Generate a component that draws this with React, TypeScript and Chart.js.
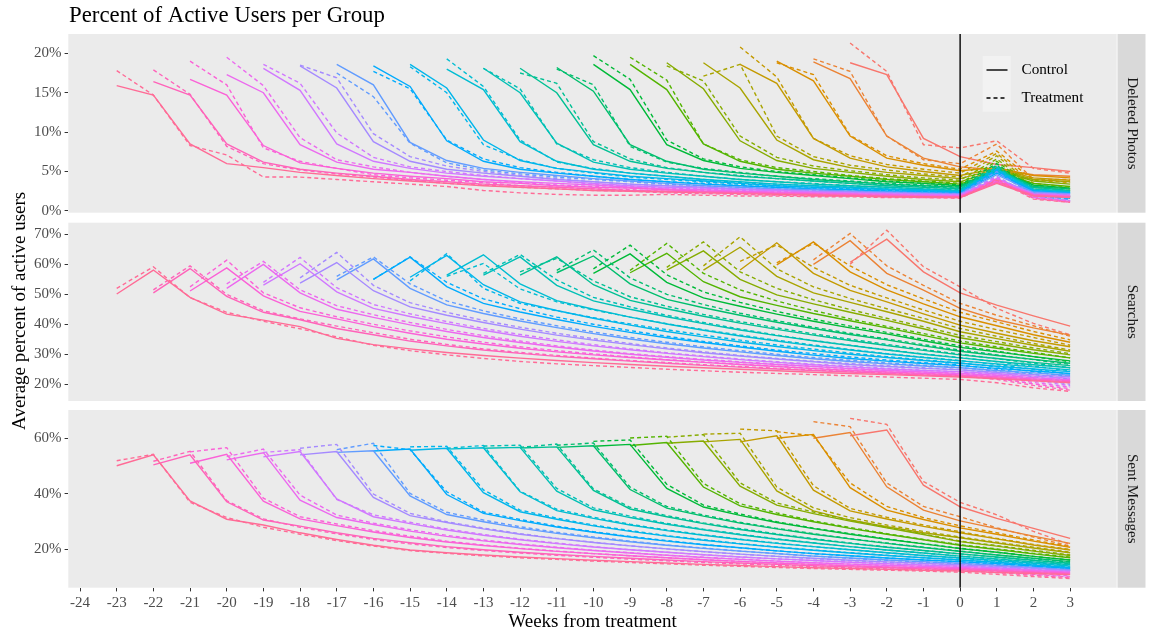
import React, { useEffect, useRef } from 'react';
import { Chart, registerables } from 'chart.js';

Chart.register(...registerables);

// ---------------- DATA ----------------
const startWeeks = [-23, -22, -21, -20, -19, -18, -17, -16, -15, -14, -13, -12, -11, -10, -9, -8, -7, -6, -5, -4, -3];
const weekTicks = [-24, -23, -22, -21, -20, -19, -18, -17, -16, -15, -14, -13, -12, -11, -10, -9, -8, -7, -6, -5, -4, -3, -2, -1, 0, 1, 2, 3];
const dpTicks = [0, 5, 10, 15, 20];
const srTicks = [20, 30, 40, 50, 60, 70];
const smTicks = [20, 40, 60];
const panelNames = ['Deleted Photos', 'Searches', 'Sent Messages'];
const groupNames = ['Control', 'Treatment'];
const chartTitle = 'Percent of Active Users per Group';
const xTitle = 'Weeks from treatment';
const yTitle = 'Average percent of active users';

// Deleted Photos (%), one row per cohort (starting week in startWeeks), values from start week to week 3
const dpControl = [
  [15.9, 14.7, 8.5, 6.0, 5.5, 4.9, 4.5, 4.1, 3.8, 3.5, 3.2, 3.0, 2.8, 2.6, 2.5, 2.4, 2.3, 2.2, 2.1, 2.0, 1.9, 1.8, 1.8, 1.7, 3.5, 1.9, 1.7],
  [16.4, 14.7, 8.5, 6.2, 5.3, 4.8, 4.4, 4.0, 3.7, 3.4, 3.2, 3.0, 2.8, 2.6, 2.5, 2.4, 2.3, 2.2, 2.1, 2.0, 1.9, 1.8, 1.8, 3.6, 2.0, 1.8],
  [16.7, 14.7, 8.3, 6.1, 5.4, 4.8, 4.4, 4.1, 3.7, 3.5, 3.2, 3.0, 2.9, 2.7, 2.5, 2.4, 2.3, 2.2, 2.1, 2.0, 1.9, 1.85, 3.7, 2.1, 1.8],
  [17.3, 15.0, 8.4, 6.2, 5.3, 4.9, 4.4, 4.0, 3.7, 3.5, 3.3, 3.0, 2.8, 2.7, 2.5, 2.4, 2.3, 2.2, 2.1, 2.0, 1.9, 3.8, 2.1, 1.9],
  [18.1, 15.3, 8.5, 6.3, 5.4, 4.8, 4.4, 4.1, 3.8, 3.5, 3.2, 3.0, 2.9, 2.7, 2.6, 2.4, 2.3, 2.2, 2.1, 2.0, 4.0, 2.2, 2.0],
  [18.4, 15.6, 8.8, 6.3, 5.3, 4.8, 4.4, 4.0, 3.7, 3.4, 3.2, 3.0, 2.8, 2.7, 2.5, 2.4, 2.3, 2.2, 2.1, 4.1, 2.3, 2.1],
  [18.6, 16.0, 8.7, 6.4, 5.4, 4.9, 4.5, 4.1, 3.8, 3.5, 3.2, 3.0, 2.8, 2.7, 2.5, 2.4, 2.3, 2.2, 4.6, 2.4, 2.2],
  [18.4, 15.8, 8.9, 6.3, 5.3, 4.8, 4.4, 4.0, 3.7, 3.4, 3.2, 3.0, 2.8, 2.7, 2.5, 2.4, 2.3, 4.8, 2.5, 2.3],
  [18.6, 15.6, 9.0, 6.4, 5.4, 4.9, 4.4, 4.1, 3.8, 3.5, 3.2, 3.0, 2.9, 2.7, 2.6, 2.4, 5.0, 2.6, 2.3],
  [18.0, 15.4, 8.8, 6.3, 5.3, 4.8, 4.4, 4.0, 3.7, 3.4, 3.2, 3.0, 2.8, 2.7, 2.5, 5.2, 2.7, 2.4],
  [18.1, 15.0, 8.6, 6.2, 5.3, 4.8, 4.4, 4.0, 3.7, 3.4, 3.2, 3.0, 2.8, 2.6, 5.3, 2.8, 2.5],
  [18.1, 15.0, 8.4, 6.3, 5.4, 4.9, 4.4, 4.1, 3.8, 3.5, 3.2, 3.0, 2.8, 5.3, 3.0, 2.6],
  [18.2, 15.2, 8.4, 6.3, 5.3, 4.8, 4.4, 4.0, 3.7, 3.4, 3.2, 3.0, 5.4, 3.1, 2.8],
  [18.6, 15.4, 8.4, 6.4, 5.4, 4.9, 4.5, 4.1, 3.7, 3.5, 3.2, 5.1, 3.3, 2.9],
  [18.6, 15.4, 8.5, 6.3, 5.3, 4.8, 4.4, 4.0, 3.7, 3.4, 5.0, 3.5, 3.1],
  [18.8, 15.5, 8.9, 6.4, 5.4, 4.9, 4.4, 4.0, 3.7, 5.2, 3.8, 3.4],
  [18.8, 15.6, 9.0, 6.5, 5.5, 4.9, 4.5, 4.1, 5.3, 4.0, 3.7],
  [18.6, 16.2, 9.2, 6.7, 5.6, 5.0, 4.5, 5.4, 4.2, 3.9],
  [19.0, 16.5, 9.5, 6.7, 5.8, 5.1, 5.5, 4.5, 4.2],
  [18.9, 16.8, 9.5, 6.7, 5.6, 5.2, 4.6, 4.4],
  [18.8, 17.3, 9.2, 6.9, 5.9, 5.5, 5.0],
];
const dpTreatment = [
  [17.8, 14.7, 8.3, 7.1, 4.3, 4.3, 4.0, 3.7, 3.4, 3.1, 2.6, 2.3, 2.1, 2.0, 2.0, 2.1, 2.0, 1.9, 1.9, 1.8, 1.8, 1.7, 1.7, 1.6, 3.9, 1.5, 1.1],
  [17.9, 14.8, 8.2, 6.0, 5.2, 4.7, 4.3, 3.9, 3.5, 3.3, 3.0, 2.8, 2.6, 2.5, 2.3, 2.2, 2.1, 2.0, 1.9, 1.9, 1.8, 1.7, 1.7, 4.0, 1.6, 1.1],
  [19.0, 16.0, 8.0, 6.3, 5.4, 4.6, 4.2, 3.9, 3.6, 3.2, 3.0, 2.8, 2.7, 2.5, 2.4, 2.2, 2.1, 2.0, 2.0, 1.9, 1.8, 1.8, 4.1, 1.7, 1.2],
  [19.5, 15.9, 9.3, 6.5, 5.6, 4.9, 4.4, 4.0, 3.6, 3.3, 3.1, 2.9, 2.7, 2.6, 2.4, 2.3, 2.2, 2.1, 2.0, 1.9, 1.9, 4.2, 1.7, 1.2],
  [18.6, 16.2, 9.9, 6.8, 5.6, 5.0, 4.5, 4.1, 3.8, 3.4, 3.1, 2.9, 2.8, 2.6, 2.5, 2.3, 2.2, 2.1, 2.1, 2.0, 4.3, 1.8, 1.3],
  [18.5, 16.9, 9.8, 6.9, 5.7, 5.0, 4.5, 4.1, 3.7, 3.4, 3.2, 3.0, 2.8, 2.6, 2.5, 2.4, 2.3, 2.2, 2.1, 4.4, 1.8, 1.3],
  [17.5, 14.5, 8.6, 6.1, 5.2, 4.7, 4.3, 4.0, 3.7, 3.4, 3.2, 3.0, 2.8, 2.6, 2.5, 2.4, 2.3, 2.2, 5.0, 1.9, 1.4],
  [17.7, 15.5, 9.0, 6.6, 5.5, 4.9, 4.4, 4.0, 3.7, 3.5, 3.2, 3.0, 2.8, 2.7, 2.5, 2.4, 2.3, 5.2, 2.0, 1.5],
  [18.3, 15.0, 8.4, 6.5, 5.4, 4.8, 4.3, 4.0, 3.7, 3.4, 3.2, 3.0, 2.8, 2.6, 2.5, 2.4, 5.3, 2.0, 1.6],
  [19.3, 15.8, 9.0, 6.2, 5.4, 4.8, 4.4, 4.0, 3.6, 3.4, 3.2, 3.0, 2.8, 2.6, 2.5, 5.5, 2.1, 1.6],
  [18.1, 15.5, 8.5, 6.5, 5.5, 4.9, 4.4, 4.0, 3.7, 3.5, 3.2, 3.0, 2.8, 2.7, 5.6, 2.2, 1.7],
  [17.5, 16.2, 8.8, 6.6, 5.5, 4.9, 4.5, 4.1, 3.8, 3.5, 3.3, 3.1, 2.9, 5.7, 2.3, 1.8],
  [18.0, 16.0, 8.2, 6.2, 5.4, 4.9, 4.4, 4.1, 3.8, 3.5, 3.3, 3.1, 5.8, 2.4, 1.9],
  [19.7, 16.7, 9.0, 6.6, 5.6, 5.0, 4.6, 4.2, 3.8, 3.5, 3.3, 6.0, 2.6, 2.0],
  [19.5, 16.6, 8.5, 6.5, 5.5, 5.0, 4.5, 4.1, 3.8, 3.5, 6.3, 2.8, 2.2],
  [18.4, 16.5, 9.5, 6.8, 5.7, 5.1, 4.6, 4.2, 3.9, 6.6, 3.0, 2.6],
  [17.1, 18.6, 9.5, 6.9, 5.8, 5.2, 4.7, 4.3, 7.0, 3.2, 2.8],
  [20.8, 17.0, 9.2, 7.0, 5.9, 5.3, 4.8, 7.3, 3.5, 3.0],
  [18.8, 17.3, 9.6, 7.0, 6.0, 5.3, 7.6, 3.9, 3.6],
  [19.3, 17.7, 9.5, 6.5, 6.0, 8.5, 4.0, 4.0],
  [21.3, 17.7, 8.4, 8.0, 8.9, 5.4, 4.8],
];

// Searches (%)
const srControl = [
  [50.1, 58.1, 49.0, 43.4, 41.4, 39.2, 35.3, 33.2, 31.8, 30.6, 29.6, 28.7, 27.9, 27.2, 26.6, 26.0, 25.5, 25.0, 24.5, 24.0, 23.6, 23.2, 22.8, 22.4, 21.8, 21.1, 20.5],
  [50.5, 58.6, 49.3, 44.0, 41.5, 38.6, 36.5, 34.4, 32.8, 31.4, 30.3, 29.3, 28.5, 27.7, 27.0, 26.3, 25.7, 25.1, 24.6, 24.1, 23.6, 23.1, 22.7, 22.1, 21.4, 20.8],
  [51.1, 58.8, 49.5, 44.3, 41.8, 39.2, 37.0, 35.0, 33.4, 32.0, 30.8, 29.8, 28.9, 28.1, 27.3, 26.6, 25.9, 25.2, 24.6, 24.1, 23.6, 23.1, 22.5, 21.8, 21.2],
  [52.0, 60.0, 50.5, 45.0, 42.3, 39.8, 37.6, 35.6, 33.9, 32.4, 31.1, 30.0, 29.0, 28.1, 27.3, 26.6, 25.9, 25.2, 24.6, 24.1, 23.6, 23.0, 22.2, 21.5],
  [53.1, 60.2, 50.8, 45.3, 42.6, 40.2, 38.0, 36.0, 34.3, 32.8, 31.5, 30.3, 29.2, 28.2, 27.3, 26.5, 25.8, 25.1, 24.6, 24.2, 23.5, 22.7, 22.0],
  [53.7, 60.6, 51.2, 45.8, 43.0, 40.6, 38.4, 36.4, 34.7, 33.2, 31.8, 30.5, 29.4, 28.4, 27.5, 26.6, 25.9, 25.3, 24.8, 24.0, 23.2, 22.5],
  [54.8, 61.8, 52.0, 46.5, 43.6, 41.1, 38.9, 36.9, 35.1, 33.5, 32.1, 30.8, 29.6, 28.5, 27.6, 26.8, 26.1, 25.5, 24.6, 23.8, 23.0],
  [55.0, 62.4, 52.6, 47.0, 44.1, 41.6, 39.3, 37.3, 35.5, 33.9, 32.4, 31.0, 29.7, 28.6, 27.7, 26.9, 26.2, 25.3, 24.4, 23.6],
  [55.7, 63.0, 53.2, 47.5, 44.6, 42.0, 39.7, 37.6, 35.8, 34.1, 32.6, 31.2, 30.0, 28.9, 27.9, 27.0, 26.0, 25.1, 24.2],
  [56.4, 63.2, 53.5, 47.9, 45.0, 42.4, 40.1, 38.0, 36.1, 34.4, 32.8, 31.4, 30.1, 28.9, 27.8, 26.8, 25.8, 24.8],
  [56.4, 62.5, 53.0, 47.8, 45.0, 42.5, 40.2, 38.1, 36.2, 34.5, 32.9, 31.4, 30.0, 28.8, 27.6, 26.5, 25.5],
  [56.4, 62.5, 53.2, 48.0, 45.2, 42.7, 40.4, 38.3, 36.4, 34.6, 32.9, 31.3, 29.8, 28.6, 27.3, 26.2],
  [57.2, 62.8, 53.5, 48.3, 45.5, 43.0, 40.7, 38.6, 36.6, 34.8, 32.8, 31.0, 29.6, 28.3, 27.0],
  [57.0, 63.5, 54.0, 48.8, 46.0, 43.4, 41.0, 38.8, 36.8, 34.5, 32.3, 30.8, 29.2, 27.8],
  [57.2, 63.7, 54.2, 49.2, 46.3, 43.6, 41.2, 38.8, 36.3, 33.8, 32.0, 30.3, 28.8],
  [58.1, 64.5, 55.0, 49.8, 46.8, 44.0, 41.3, 38.5, 35.5, 33.5, 31.5, 29.8],
  [58.1, 65.7, 56.0, 50.5, 47.3, 44.2, 41.0, 37.5, 35.2, 33.0, 31.0],
  [58.1, 67.2, 57.0, 51.3, 47.5, 43.5, 39.7, 37.0, 34.5, 32.5],
  [59.8, 67.5, 57.5, 51.5, 46.8, 42.5, 39.5, 36.5, 34.0],
  [60.0, 67.9, 57.0, 51.4, 45.3, 41.5, 38.8, 36.4],
  [60.7, 68.4, 57.5, 50.5, 46.4, 42.8, 39.4],
];
const srTreatment = [
  [52.0, 59.2, 48.9, 44.0, 41.0, 38.5, 35.8, 33.0, 31.2, 29.8, 28.6, 27.6, 26.8, 26.2, 25.6, 25.0, 24.5, 24.0, 23.6, 23.2, 22.8, 22.4, 22.0, 21.6, 20.5, 18.8, 17.6],
  [51.5, 59.5, 50.0, 44.5, 41.8, 39.4, 37.2, 35.0, 33.3, 31.8, 30.6, 29.6, 28.7, 27.9, 27.2, 26.5, 25.9, 25.3, 24.7, 24.2, 23.7, 23.2, 22.8, 21.6, 19.6, 18.0],
  [52.5, 61.4, 50.5, 45.5, 42.5, 40.0, 37.8, 35.8, 34.0, 32.5, 31.2, 30.1, 29.1, 28.2, 27.4, 26.7, 26.0, 25.3, 24.7, 24.1, 23.6, 23.1, 22.0, 20.1, 18.5],
  [53.5, 61.0, 51.5, 46.2, 43.2, 40.6, 38.3, 36.2, 34.4, 32.8, 31.4, 30.2, 29.2, 28.3, 27.5, 26.7, 26.0, 25.3, 24.7, 24.1, 23.6, 22.5, 20.6, 19.0],
  [54.0, 62.3, 52.2, 46.6, 43.5, 40.9, 38.6, 36.6, 34.8, 33.2, 31.8, 30.5, 29.4, 28.4, 27.5, 26.7, 26.0, 25.3, 24.7, 24.1, 23.0, 21.2, 19.5],
  [55.5, 64.0, 53.0, 47.2, 44.0, 41.3, 39.0, 37.0, 35.2, 33.6, 32.1, 30.8, 29.6, 28.6, 27.7, 26.9, 26.2, 25.5, 24.9, 23.6, 21.8, 20.0],
  [56.0, 62.5, 53.5, 47.8, 44.5, 41.8, 39.5, 37.4, 35.6, 34.0, 32.5, 31.2, 30.0, 28.9, 28.0, 27.1, 26.3, 25.6, 24.3, 22.5, 20.8],
  [55.0, 62.5, 54.0, 48.5, 45.2, 42.4, 40.0, 37.9, 36.0, 34.3, 32.8, 31.4, 30.2, 29.1, 28.1, 27.2, 26.4, 25.0, 23.3, 21.6],
  [54.5, 63.6, 52.0, 47.0, 44.5, 42.2, 40.1, 38.2, 36.4, 34.7, 33.1, 31.7, 30.4, 29.2, 28.1, 27.1, 25.8, 24.2, 22.5],
  [56.0, 60.3, 51.8, 47.5, 44.8, 42.4, 40.2, 38.2, 36.4, 34.7, 33.1, 31.6, 30.2, 29.0, 27.9, 26.6, 25.0, 23.4],
  [57.0, 63.3, 54.8, 49.0, 45.8, 43.0, 40.6, 38.4, 36.4, 34.6, 33.0, 31.5, 30.1, 28.9, 27.5, 26.0, 24.5],
  [57.5, 62.0, 54.5, 49.2, 46.0, 43.3, 40.9, 38.8, 36.8, 35.0, 33.3, 31.6, 30.0, 28.5, 27.0, 25.5],
  [58.0, 64.8, 55.5, 50.0, 46.6, 43.7, 41.2, 39.0, 37.0, 35.1, 33.2, 31.4, 29.8, 28.2, 26.6],
  [58.5, 66.4, 56.5, 50.8, 47.3, 44.3, 41.7, 39.4, 37.3, 35.0, 32.8, 31.0, 29.2, 27.5],
  [58.0, 67.0, 57.0, 51.5, 47.8, 44.6, 41.8, 39.3, 36.9, 34.4, 32.5, 30.6, 28.8],
  [59.0, 67.5, 57.5, 52.0, 48.2, 44.9, 42.0, 39.2, 36.3, 34.2, 32.1, 30.2],
  [59.5, 69.2, 58.5, 52.5, 48.6, 45.2, 42.0, 38.6, 36.0, 33.6, 31.4],
  [61.0, 66.5, 59.0, 53.0, 48.8, 44.8, 41.0, 38.2, 35.6, 33.0],
  [60.5, 67.0, 59.5, 53.2, 48.5, 44.0, 40.8, 37.6, 34.8],
  [61.5, 70.3, 59.5, 53.0, 47.0, 43.0, 39.5, 36.0],
  [60.0, 71.4, 59.2, 52.5, 45.3, 40.3, 36.5],
];

// Sent Messages (%)
const smControl = [
  [50.2, 54.1, 37.5, 30.9, 28.8, 26.0, 23.6, 21.5, 19.8, 18.8, 18.0, 17.3, 16.7, 16.1, 15.6, 15.1, 14.6, 14.2, 13.8, 13.4, 13.1, 12.8, 12.5, 12.2, 11.7, 11.3, 10.9],
  [50.5, 54.1, 37.2, 30.6, 28.4, 26.0, 24.0, 22.4, 21.0, 19.9, 19.0, 18.2, 17.5, 16.8, 16.2, 15.6, 15.1, 14.6, 14.1, 13.7, 13.4, 13.0, 12.7, 12.2, 11.7, 11.2],
  [51.1, 54.3, 37.4, 31.0, 28.6, 26.3, 24.3, 22.7, 21.4, 20.3, 19.3, 18.5, 17.7, 17.0, 16.3, 15.7, 15.1, 14.6, 14.1, 13.7, 13.4, 13.1, 12.6, 12.0, 11.5],
  [52.3, 54.9, 37.8, 31.5, 29.0, 26.6, 24.7, 23.1, 21.8, 20.6, 19.6, 18.7, 17.9, 17.1, 16.4, 15.8, 15.2, 14.7, 14.3, 13.9, 13.5, 13.0, 12.4, 11.8],
  [53.4, 55.3, 38.2, 31.8, 29.3, 27.0, 25.1, 23.5, 22.1, 20.9, 19.9, 19.0, 18.1, 17.3, 16.6, 16.0, 15.4, 14.9, 14.4, 14.0, 13.4, 12.7, 12.1],
  [54.1, 55.3, 38.8, 32.2, 29.7, 27.4, 25.5, 23.9, 22.5, 21.3, 20.2, 19.2, 18.3, 17.5, 16.8, 16.1, 15.5, 15.0, 14.5, 13.9, 13.2, 12.4],
  [55.0, 55.6, 39.3, 32.6, 30.0, 27.7, 25.8, 24.2, 22.8, 21.5, 20.4, 19.4, 18.5, 17.6, 16.9, 16.2, 15.6, 15.0, 14.3, 13.5, 12.7],
  [55.5, 56.2, 39.8, 33.0, 30.4, 28.1, 26.2, 24.5, 23.0, 21.7, 20.6, 19.5, 18.5, 17.7, 16.9, 16.2, 15.6, 14.9, 14.0, 13.1],
  [55.8, 56.5, 40.5, 33.6, 30.9, 28.5, 26.5, 24.8, 23.3, 22.0, 20.8, 19.7, 18.7, 17.8, 17.0, 16.2, 15.4, 14.4, 13.5],
  [56.2, 56.7, 40.8, 34.0, 31.2, 28.8, 26.8, 25.1, 23.6, 22.2, 21.0, 19.9, 18.8, 17.8, 16.9, 16.0, 15.0, 14.0],
  [56.5, 56.8, 41.0, 34.3, 31.5, 29.1, 27.1, 25.3, 23.7, 22.3, 21.0, 19.8, 18.7, 17.6, 16.6, 15.5, 14.5],
  [56.6, 57.0, 41.3, 34.6, 31.8, 29.3, 27.2, 25.4, 23.7, 22.2, 20.8, 19.6, 18.4, 17.3, 16.1, 15.0],
  [56.8, 57.4, 41.6, 34.9, 32.0, 29.5, 27.4, 25.5, 23.8, 22.2, 20.7, 19.3, 18.0, 16.8, 15.6],
  [57.2, 57.9, 42.0, 35.3, 32.3, 29.7, 27.5, 25.5, 23.7, 22.0, 20.3, 19.0, 17.5, 16.2],
  [57.5, 58.6, 42.5, 35.7, 32.6, 30.0, 27.6, 25.5, 23.5, 21.5, 20.0, 18.4, 17.0],
  [58.3, 59.1, 42.8, 36.0, 32.9, 30.2, 27.8, 25.4, 22.8, 21.2, 19.4, 17.8],
  [58.8, 59.7, 41.1, 33.9, 30.6, 28.2, 26.0, 24.2, 22.3, 20.5, 18.8],
  [58.8, 61.0, 41.4, 33.9, 31.0, 28.3, 26.0, 23.8, 21.6, 19.8],
  [60.1, 61.5, 42.3, 34.2, 30.8, 27.8, 25.5, 23.0, 20.8],
  [60.1, 62.2, 42.6, 34.2, 30.3, 27.5, 24.8, 22.2],
  [61.0, 63.1, 43.2, 35.4, 31.2, 27.6, 24.0],
];
const smTreatment = [
  [52.0, 54.3, 37.0, 31.5, 28.0, 25.5, 23.2, 21.2, 19.6, 18.6, 17.7, 17.0, 16.4, 15.8, 15.3, 14.8, 14.3, 13.9, 13.5, 13.1, 12.8, 12.5, 12.2, 11.8, 11.0, 10.2, 9.5],
  [51.8, 55.4, 37.6, 31.0, 28.0, 25.6, 23.6, 22.0, 20.7, 19.6, 18.7, 17.9, 17.2, 16.5, 15.9, 15.3, 14.8, 14.3, 13.8, 13.4, 13.0, 12.7, 12.4, 11.6, 10.7, 9.8],
  [55.2, 56.7, 38.5, 31.8, 29.2, 26.8, 24.8, 23.0, 21.6, 20.4, 19.4, 18.5, 17.7, 17.0, 16.3, 15.7, 15.1, 14.6, 14.1, 13.7, 13.3, 12.9, 12.0, 11.0, 10.1],
  [53.5, 56.2, 39.6, 32.4, 29.5, 27.1, 25.1, 23.4, 22.0, 20.8, 19.7, 18.8, 17.9, 17.2, 16.5, 15.8, 15.2, 14.7, 14.2, 13.8, 13.3, 12.4, 11.4, 10.4],
  [55.0, 56.0, 38.0, 32.5, 29.8, 27.4, 25.4, 23.7, 22.3, 21.0, 19.9, 19.0, 18.1, 17.3, 16.6, 16.0, 15.4, 14.8, 14.3, 13.9, 12.8, 11.8, 10.8],
  [56.5, 57.9, 40.0, 33.0, 30.0, 27.7, 25.7, 24.0, 22.6, 21.3, 20.2, 19.2, 18.3, 17.5, 16.7, 16.0, 15.4, 14.9, 14.4, 13.3, 12.3, 11.2],
  [56.0, 58.3, 40.2, 33.4, 30.6, 28.2, 26.2, 24.5, 23.0, 21.6, 20.5, 19.4, 18.5, 17.6, 16.8, 16.1, 15.4, 14.8, 13.8, 12.8, 11.8],
  [57.5, 56.0, 40.8, 33.5, 30.8, 28.4, 26.4, 24.7, 23.2, 21.8, 20.6, 19.5, 18.5, 17.7, 16.9, 16.2, 15.5, 14.5, 13.4, 12.4],
  [57.0, 57.2, 41.5, 34.2, 31.3, 28.8, 26.8, 25.0, 23.5, 22.1, 20.9, 19.8, 18.8, 17.9, 17.0, 16.2, 15.1, 14.0, 13.0],
  [56.5, 57.5, 41.0, 34.5, 31.6, 29.1, 27.0, 25.3, 23.7, 22.3, 21.0, 19.9, 18.8, 17.8, 16.9, 15.8, 14.7, 13.6],
  [57.3, 57.6, 42.0, 35.0, 32.0, 29.4, 27.3, 25.5, 23.8, 22.4, 21.0, 19.8, 18.7, 17.6, 16.4, 15.2, 14.2],
  [56.8, 58.0, 41.8, 35.2, 32.2, 29.6, 27.5, 25.6, 23.9, 22.3, 20.9, 19.6, 18.4, 17.2, 16.0, 14.8],
  [57.6, 58.4, 42.5, 35.5, 32.4, 29.8, 27.6, 25.7, 23.9, 22.3, 20.8, 19.4, 18.0, 16.7, 15.4],
  [59.0, 59.5, 43.5, 36.0, 32.8, 30.0, 27.7, 25.7, 23.8, 22.1, 20.4, 19.0, 17.5, 16.2],
  [60.2, 60.8, 43.8, 36.5, 33.2, 30.3, 27.9, 25.7, 23.6, 21.7, 20.2, 18.6, 17.2],
  [60.5, 61.4, 44.0, 36.8, 33.5, 30.6, 28.0, 25.6, 23.0, 21.4, 19.7, 18.0],
  [61.6, 61.9, 42.5, 35.0, 31.5, 28.8, 26.5, 24.5, 22.6, 20.8, 19.0],
  [63.4, 62.8, 43.0, 34.8, 31.6, 28.8, 26.4, 24.0, 21.8, 20.0],
  [62.5, 61.0, 44.0, 35.5, 31.5, 28.5, 26.0, 23.4, 21.0],
  [66.1, 64.3, 44.0, 35.5, 31.8, 27.8, 24.5, 21.2],
  [67.3, 65.1, 44.5, 37.0, 32.5, 26.5, 21.8],
];

// ---------------- LAYOUT / STYLE ----------------
const CW = 1153;
const CH = 632;
const PLOT_LEFT = 68.3;
const PLOT_RIGHT = 1116.7;
const STRIP_LEFT = 1117.5;
const STRIP_RIGHT = 1145.5;
const X_MIN = -24.32;
const X_MAX = 4.27;
const FONT = '"Liberation Serif", "Times New Roman", "DejaVu Serif", serif';

const panelLayout = [
  { top: 34, bottom: 212.7, yMin: -0.22, yMax: 22.45 },
  { top: 222.7, bottom: 401, yMin: 14.4, yMax: 73.9 },
  { top: 410, bottom: 587.7, yMin: 6.2, yMax: 70.3 },
];

const panelData = [
  { control: dpControl, treatment: dpTreatment, ticks: dpTicks },
  { control: srControl, treatment: srTreatment, ticks: srTicks },
  { control: smControl, treatment: smTreatment, ticks: smTicks },
];

// ggplot2 hue palette (HCL, c = 100, l = 65)
function hcl(h: number, c: number, l: number): string {
  const hr = (h * Math.PI) / 180;
  const U = c * Math.cos(hr);
  const V = c * Math.sin(hr);
  const Y = l > 8 ? Math.pow((l + 16) / 116, 3) : l / 903.3;
  const Xn = 0.95047, Yn = 1.0, Zn = 1.08883;
  const den = Xn + 15 * Yn + 3 * Zn;
  const un = (4 * Xn) / den;
  const vn = (9 * Yn) / den;
  const up = U / (13 * l) + un;
  const vp = V / (13 * l) + vn;
  const X = (Y * 9 * up) / (4 * vp);
  const Z = (Y * (12 - 3 * up - 20 * vp)) / (4 * vp);
  const lin = [
    3.2404542 * X - 1.5371385 * Y - 0.4985314 * Z,
    -0.969266 * X + 1.8760108 * Y + 0.041556 * Z,
    0.0556434 * X - 0.2040259 * Y + 1.0572252 * Z,
  ];
  const rgb = lin.map((v) => {
    const g = v <= 0.0031308 ? 12.92 * v : 1.055 * Math.pow(v, 1 / 2.4) - 0.055;
    return Math.round(Math.min(1, Math.max(0, g)) * 255);
  });
  return `rgb(${rgb[0]},${rgb[1]},${rgb[2]})`;
}

const nCohorts = startWeeks.length;
const cohortColor = (j: number) => hcl(15 + (360 * (nCohorts - 1 - j)) / nCohorts, 100, 65);

function buildDatasets(control: number[][], treatment: number[][]) {
  const ds: any[] = [];
  startWeeks.forEach((s, j) => {
    const color = cohortColor(j);
    [control, treatment].forEach((series, g) => {
      ds.push({
        label: `${s} ${groupNames[g]}`,
        data: series[j].map((v, i) => ({ x: s + i, y: v })),
        borderColor: color,
        backgroundColor: color,
        borderWidth: 1.4,
        borderDash: g === 1 ? [4, 3] : [],
        pointRadius: 0,
        fill: false,
        tension: 0,
      });
    });
  });
  return ds;
}

function makePlugin(p: number) {
  return {
    id: 'panelDecor' + p,
    beforeDraw(chart: any) {
      const { ctx, chartArea: a } = chart;
      ctx.save();
      ctx.fillStyle = '#EBEBEB';
      ctx.fillRect(a.left, a.top, a.right - a.left, a.bottom - a.top);
      ctx.fillStyle = '#D9D9D9';
      ctx.fillRect(STRIP_LEFT, a.top, STRIP_RIGHT - STRIP_LEFT, a.bottom - a.top);
      ctx.restore();
    },
    afterDatasetsDraw(chart: any) {
      const { ctx, chartArea: a } = chart;
      const x0 = chart.scales.x.getPixelForValue(0);
      ctx.save();
      ctx.strokeStyle = '#000000';
      ctx.lineWidth = 1.4;
      ctx.beginPath();
      ctx.moveTo(x0, a.top);
      ctx.lineTo(x0, a.bottom);
      ctx.stroke();
      ctx.restore();
    },
    afterDraw(chart: any) {
      const { ctx, chartArea: a } = chart;
      ctx.save();
      ctx.fillStyle = '#1A1A1A';
      ctx.font = `15.2px ${FONT}`;
      ctx.textAlign = 'center';
      ctx.textBaseline = 'middle';
      ctx.translate((STRIP_LEFT + STRIP_RIGHT) / 2, (a.top + a.bottom) / 2);
      ctx.rotate(Math.PI / 2);
      ctx.fillText(panelNames[p], 0, 0);
      ctx.restore();

      if (p === 0) {
        ctx.save();
        ctx.fillStyle = '#000000';
        ctx.font = `22.8px ${FONT}`;
        ctx.textAlign = 'left';
        ctx.textBaseline = 'alphabetic';
        ctx.fillText(chartTitle, 69, 21.5);
        ctx.fillStyle = '#F2F2F2';
        ctx.fillRect(982.7, 56, 28, 55.7);
        ctx.strokeStyle = '#000000';
        ctx.lineWidth = 1.4;
        const rows = [70, 98];
        rows.forEach((yy, g) => {
          ctx.setLineDash(g === 1 ? [4, 3] : []);
          ctx.beginPath();
          ctx.moveTo(986.5, yy);
          ctx.lineTo(1007.5, yy);
          ctx.stroke();
        });
        ctx.setLineDash([]);
        ctx.fillStyle = '#000000';
        ctx.font = `15.2px ${FONT}`;
        ctx.textBaseline = 'middle';
        rows.forEach((yy, g) => ctx.fillText(groupNames[g], 1021.5, yy));
        ctx.restore();
      }
      if (p === 1) {
        ctx.save();
        ctx.fillStyle = '#000000';
        ctx.font = `19px ${FONT}`;
        ctx.textAlign = 'center';
        ctx.textBaseline = 'alphabetic';
        ctx.translate(24.5, (panelLayout[0].top + panelLayout[2].bottom) / 2);
        ctx.rotate(-Math.PI / 2);
        ctx.fillText(yTitle, 0, 0);
        ctx.restore();
      }
      if (p === 2) {
        ctx.save();
        ctx.fillStyle = '#000000';
        ctx.font = `19px ${FONT}`;
        ctx.textAlign = 'center';
        ctx.textBaseline = 'alphabetic';
        ctx.fillText(xTitle, (PLOT_LEFT + PLOT_RIGHT) / 2, 627);
        ctx.restore();
      }
    },
  };
}

function makeConfig(p: number): any {
  const L = panelLayout[p];
  const D = panelData[p];
  const isBottom = p === 2;
  return {
    type: 'line',
    data: { datasets: buildDatasets(D.control, D.treatment) },
    plugins: [makePlugin(p)],
    options: {
      responsive: false,
      animation: false,
      events: [],
      layout: {
        padding: { left: 0, right: CW - PLOT_RIGHT, top: L.top, bottom: isBottom ? 0 : CH - L.bottom },
      },
      plugins: { legend: { display: false }, tooltip: { enabled: false }, title: { display: false } },
      scales: {
        x: {
          type: 'linear',
          min: X_MIN,
          max: X_MAX,
          display: isBottom,
          afterBuildTicks: (s: any) => {
            s.ticks = weekTicks.map((v) => ({ value: v }));
          },
          afterFit: (s: any) => {
            s.height = isBottom ? CH - L.bottom : 0;
          },
          grid: { display: true, drawOnChartArea: false, drawTicks: true, tickLength: 3.7, color: '#333333', lineWidth: 1 },
          border: { display: false },
          ticks: {
            autoSkip: false,
            maxRotation: 0,
            minRotation: 0,
            padding: 3,
            color: '#4D4D4D',
            font: { family: FONT, size: 15 },
            callback: (v: any) => String(v),
          },
        },
        y: {
          type: 'linear',
          min: L.yMin,
          max: L.yMax,
          afterBuildTicks: (s: any) => {
            s.ticks = D.ticks.map((v) => ({ value: v }));
          },
          afterFit: (s: any) => {
            s.width = PLOT_LEFT;
          },
          grid: { display: true, drawOnChartArea: false, drawTicks: true, tickLength: 3.7, color: '#333333', lineWidth: 1 },
          border: { display: false },
          ticks: {
            padding: 3,
            color: '#4D4D4D',
            font: { family: FONT, size: 15 },
            callback: (v: any) => `${v}%`,
          },
        },
      },
      elements: { point: { radius: 0 }, line: { tension: 0 } },
    },
  };
}

export default function App() {
  const r0 = useRef<HTMLCanvasElement>(null);
  const r1 = useRef<HTMLCanvasElement>(null);
  const r2 = useRef<HTMLCanvasElement>(null);

  useEffect(() => {
    const refs = [r0, r1, r2];
    const charts = refs.map((r, p) => new Chart(r.current as HTMLCanvasElement, makeConfig(p)));
    return () => charts.forEach((c) => c.destroy());
  }, []);

  const cs: React.CSSProperties = { position: 'absolute', left: 0, top: 0, display: 'block' };
  return (
    <div style={{ position: 'absolute', left: 0, top: 0, width: CW, height: CH, background: '#FFFFFF', overflow: 'hidden' }}>
      <canvas ref={r0} width={CW} height={CH} style={cs} />
      <canvas ref={r1} width={CW} height={CH} style={cs} />
      <canvas ref={r2} width={CW} height={CH} style={cs} />
    </div>
  );
}
